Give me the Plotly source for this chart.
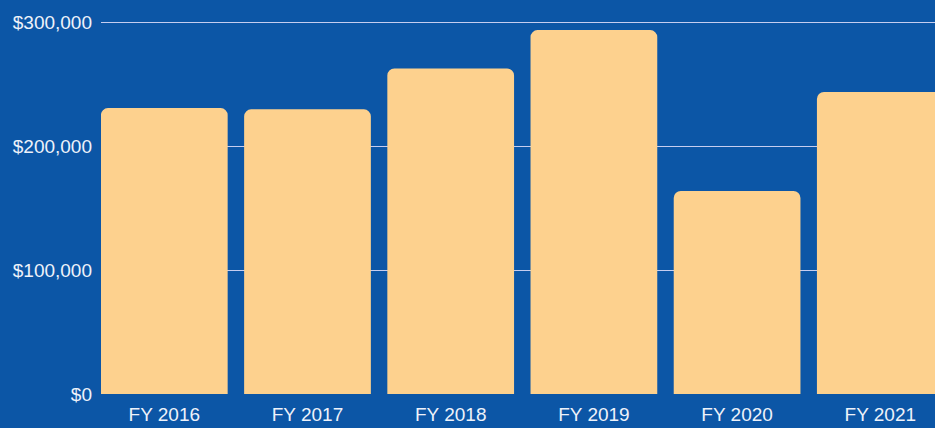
import plotly.graph_objects as go

categories = ["FY 2016", "FY 2017", "FY 2018", "FY 2019", "FY 2020", "FY 2021"]
values = [231000, 230000, 263000, 294000, 164000, 244000]
y_ticks = [0, 100000, 200000, 300000]
y_tick_labels = ["$0", "$100,000", "$200,000", "$300,000"]

fig = go.Figure(
    go.Bar(
        x=list(range(len(categories))),
        y=values,
        marker=dict(color="#fdd18e", line=dict(width=0)),
        hoverinfo="skip",
    )
)

fig.update_layout(
    width=935,
    height=428,
    margin=dict(l=101, r=0, t=18, b=34),
    paper_bgcolor="#0c56a6",
    plot_bgcolor="#0c56a6",
    bargap=0.115,
    barcornerradius=7,
    showlegend=False,
    font=dict(family="Liberation Sans, Arial, sans-serif", size=19, color="#eef2fa"),
)

fig.update_xaxes(
    range=[-0.442, 5.382],
    tickmode="array",
    tickvals=list(range(len(categories))),
    ticktext=categories,
    showgrid=False,
    zeroline=False,
    showline=False,
    ticks="",
    ticklabelstandoff=7,
)

fig.update_yaxes(
    range=[0, 303790],
    tickmode="array",
    tickvals=y_ticks,
    ticktext=y_tick_labels,
    showgrid=True,
    gridcolor="#c6cdf0",
    gridwidth=1,
    zeroline=False,
    showline=False,
    ticks="",
    ticklabelstandoff=8,
)

fig.write_html(
    "out.html",
    include_plotlyjs=True,
    config={"displayModeBar": False},
    post_script="document.body.style.margin='0';document.body.style.background='#0c56a6';",
)
